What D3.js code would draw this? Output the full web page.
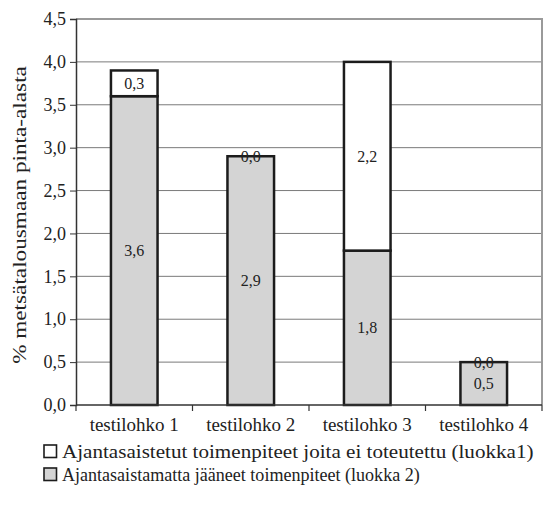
<!DOCTYPE html>
<html>
<head>
<meta charset="utf-8">
<script src="https://cdn.jsdelivr.net/npm/d3@7"></script>
<style>
  html, body { margin: 0; padding: 0; background: #fff; }
  .serif { font-family: 'Liberation Serif', 'Times New Roman', 'DejaVu Serif', serif; }
</style>
</head>
<body>
<svg id="chart" width="544" height="508"></svg>
<script>
// Share of forestry land area per test block, split into two classes
const categories = ["testilohko 1", "testilohko 2", "testilohko 3", "testilohko 4"];
const luokka2 = [3.6, 2.9, 1.8, 0.5];   // Ajantasaistamatta jääneet toimenpiteet
const luokka1 = [0.3, 0.0, 2.2, 0.0];   // Ajantasaistetut toimenpiteet joita ei toteutettu
const yTicks = [0, 0.5, 1.0, 1.5, 2.0, 2.5, 3.0, 3.5, 4.0, 4.5];
const legendLabels = [
  "Ajantasaistetut toimenpiteet joita ei toteutettu (luokka1)",
  "Ajantasaistamatta jääneet toimenpiteet (luokka 2)"
];
const yTitle = "% metsätalousmaan pinta-alasta";

const fmt = v => d3.format(".1f")(v).replace(".", ",");

const svg = d3.select("#chart");
const plot = { left: 76, right: 542, top: 19, bottom: 405 };

const x = d3.scaleBand().domain(categories).range([plot.left, plot.right]).padding(0);
const y = d3.scaleLinear().domain([0, 4.5]).range([plot.bottom, plot.top]);
const barW = x.bandwidth() * 0.4;

// horizontal gridlines
svg.append("g").selectAll("line")
  .data(yTicks.filter(t => t > 0 && t < 4.5))
  .join("line")
  .attr("x1", plot.left).attr("x2", plot.right)
  .attr("y1", d => y(d)).attr("y2", d => y(d))
  .attr("stroke", "#7a7a7a").attr("stroke-width", 1);

// plot frame (top and right)
svg.append("path")
  .attr("d", `M${plot.left},${y(4.5)}H${plot.right}V${plot.bottom}`)
  .attr("fill", "none").attr("stroke", "#9a9a9a").attr("stroke-width", 2);

// stacked bars
const bars = svg.append("g");
categories.forEach((c, i) => {
  const cx = x(c) + x.bandwidth() / 2;
  const segs = [
    { lo: 0, hi: luokka2[i], v: luokka2[i], fill: "#d4d4d4" },
    { lo: luokka2[i], hi: luokka2[i] + luokka1[i], v: luokka1[i], fill: "#ffffff" }
  ];
  segs.forEach(s => {
    bars.append("rect")
      .attr("x", cx - barW / 2)
      .attr("y", y(s.hi))
      .attr("width", barW)
      .attr("height", y(s.lo) - y(s.hi))
      .attr("fill", s.fill)
      .attr("stroke", "#1c1c1c")
      .attr("stroke-width", 2.5);
  });
  segs.forEach(s => {
    bars.append("text")
      .attr("class", "serif")
      .attr("x", cx)
      .attr("y", y((s.lo + s.hi) / 2))
      .attr("dy", "0.35em")
      .attr("text-anchor", "middle")
      .attr("font-size", 16)
      .attr("fill", "#222")
      .text(fmt(s.v));
  });
});

// y axis
const yAxis = d3.axisLeft(y).tickValues(yTicks).tickFormat(fmt).tickSize(6).tickPadding(4);
const gy = svg.append("g").attr("transform", `translate(${plot.left},0)`).call(yAxis);
gy.select(".domain").attr("stroke", "#333").attr("stroke-width", 1.5);
gy.selectAll(".tick line").attr("stroke", "#333");
gy.selectAll("text").attr("class", "serif").attr("font-size", 18).attr("fill", "#222");

// x axis: ticks at category boundaries
const gx = svg.append("g").attr("transform", `translate(0,${plot.bottom})`);
gx.append("line").attr("x1", plot.left).attr("x2", plot.right)
  .attr("stroke", "#333").attr("stroke-width", 1.5);
const bounds = categories.map(c => x(c)).concat([plot.right]);
gx.selectAll("line.tk").data(bounds).join("line").attr("class", "tk")
  .attr("x1", d => d).attr("x2", d => d).attr("y1", 0).attr("y2", 6)
  .attr("stroke", "#333").attr("stroke-width", 1.2);
gx.selectAll("text").data(categories).join("text")
  .attr("class", "serif")
  .attr("x", d => x(d) + x.bandwidth() / 2)
  .attr("y", 26)
  .attr("text-anchor", "middle")
  .attr("font-size", 19)
  .attr("fill", "#222")
  .text(d => d);

// fit a text element to a target length by scaling along its baseline
function fitWidth(sel, target) {
  const w = sel.node().getComputedTextLength();
  return target / w;
}

// y axis title
const title = svg.append("text")
  .attr("class", "serif")
  .attr("text-anchor", "middle")
  .attr("font-size", 19)
  .attr("fill", "#222")
  .text(yTitle);
const ts = fitWidth(title, 298);
title.attr("transform",
  `translate(26,${(plot.top + plot.bottom) / 2 + 3}) rotate(-90) scale(${ts},1)`);

// legend
const legend = svg.append("g");
const legendFills = ["#ffffff", "#d4d4d4"];
const legendWidths = [472, 358];
legendLabels.forEach((t, i) => {
  const ly = 445 + i * 23;
  legend.append("rect")
    .attr("x", 44).attr("y", ly).attr("width", 12.5).attr("height", 12.5)
    .attr("fill", legendFills[i]).attr("stroke", "#1c1c1c").attr("stroke-width", 1.6);
  const lt = legend.append("text")
    .attr("class", "serif")
    .attr("font-size", 18.5)
    .attr("fill", "#222")
    .text(t);
  const s = fitWidth(lt, legendWidths[i]);
  lt.attr("transform", `translate(62,${ly + 13}) scale(${s},1)`);
});
</script>
</body>
</html>
